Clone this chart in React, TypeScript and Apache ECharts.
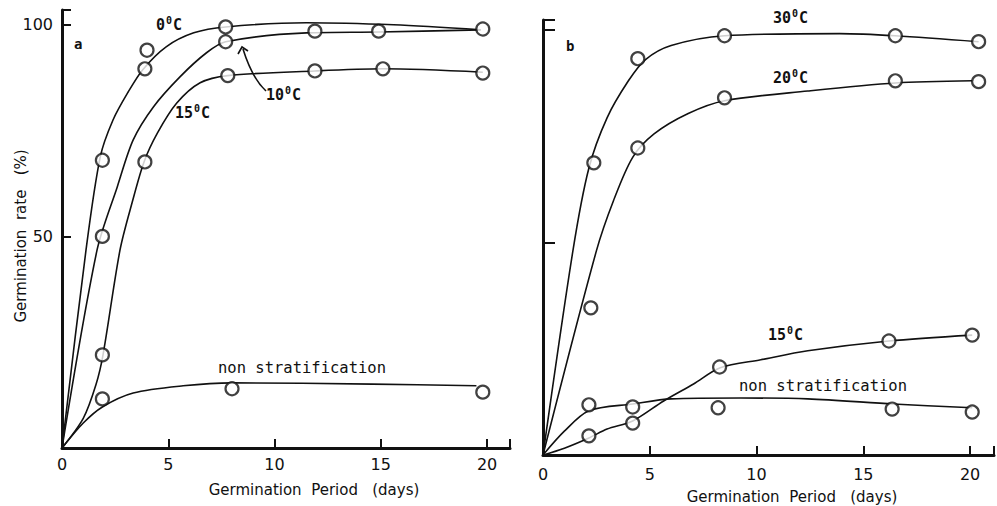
import React, { useEffect, useRef } from "react";
import * as echarts from "echarts";

// ---------- Panel a (left) ----------
// fitted curves [day, %]
const aCurve0C = [[0, 0], [1.13, 46.8], [1.8, 68.8], [2.4, 77.5], [3.1, 84], [3.8, 89.4], [4.9, 94.8], [6.2, 98.1], [7.7, 99.5], [11.5, 100.5], [15.6, 100], [19.7, 98.8]];
const aCurve10C = [[0, 0], [1.65, 46.8], [2.6, 61.7], [3.35, 72.8], [4.3, 80.6], [5.55, 87.7], [6.8, 93.4], [7.7, 96], [11.5, 98.1], [14.9, 98.3], [19.7, 98.8]];
const aCurve15C = [[0, 0], [1.0, 7], [1.6, 15], [1.93, 22], [2.73, 46.8], [3.3, 58], [3.86, 67.6], [4.5, 74.5], [5.4, 81.5], [6.5, 86.3], [7.8, 88], [11.9, 89.1], [15.1, 89.6], [19.8, 88.8]];
const aCurveNon = [[0, 0], [1, 5.9], [1.9, 9.7], [3.35, 13], [5.7, 14.7], [8, 15.4], [14.6, 15.1], [19.5, 14.7]];
// observed points
const aPts0C = [[1.9, 68], [4.0, 94], [7.7, 99.5]];
const aPts10C = [[1.9, 50], [3.9, 89.6], [7.7, 96], [11.9, 98.5], [14.9, 98.5], [19.8, 99]];
const aPts15C = [[1.9, 22], [3.9, 67.6], [7.8, 88], [11.9, 89.1], [15.1, 89.6], [19.8, 88.6]];
const aPtsNon = [[1.9, 11.6], [8.0, 14], [19.8, 13.2]];

// ---------- Panel b (right) ----------
const bCurve30C = [[0, 0], [1.4, 48], [2.15, 67.5], [3.0, 79.3], [4.0, 88], [4.8, 93], [6, 96.3], [8.5, 98.6], [13.9, 99.1], [16.5, 98.6], [20.4, 97.2]];
const bCurve20C = [[0, 0], [2.5, 48], [3.3, 59.8], [4.2, 70], [5.2, 75.5], [6.8, 80.3], [8.5, 83.3], [12.4, 85.6], [16.5, 87.5], [20.1, 88]];
const bCurve15C = [[0, 0], [1, 1.6], [2.15, 4], [3, 6.1], [4.2, 8], [5.65, 12.7], [7.05, 16.7], [8.3, 20.5], [10.2, 22.4], [12.4, 24.5], [16.2, 26.8], [20.1, 28.2]];
const bCurveNon = [[0, 0], [1, 5.6], [2.15, 10.4], [4.2, 12], [6, 13.2], [9.25, 13.4], [12.4, 13.2], [16.4, 12], [20.1, 11.1]];
const bPts30C = [[2.38, 68.7], [4.44, 93.2], [8.5, 98.6], [16.5, 98.6], [20.4, 97.2]];
const bPts20C = [[2.24, 34.6], [4.44, 72.2], [8.5, 84], [16.5, 88], [20.4, 87.8]];
const bPts15C = [[2.15, 4.5], [4.2, 7.5], [8.27, 20.7], [16.2, 26.8], [20.1, 28.2]];
const bPtsNon = [[2.15, 11.8], [4.2, 11.3], [8.2, 11.1], [16.35, 10.8], [20.1, 10.1]];

const xTickLabels = ["0", "5", "10", "15", "20"];
const yTickLabelsA = ["50", "100"];

const INK = "#111";
const TICK_FONT = "DejaVu Sans";
const MONO = "DejaVu Sans Mono";

function lineSeries(data: number[][], idx: number, name: string) {
  return {
    type: "line",
    name,
    xAxisIndex: idx,
    yAxisIndex: idx,
    data,
    smooth: 0.3,
    showSymbol: false,
    symbol: "none",
    lineStyle: { color: INK, width: 1.6 },
    z: 2,
  };
}
function pointSeries(data: number[][], idx: number, name: string) {
  return {
    type: "scatter",
    name,
    xAxisIndex: idx,
    yAxisIndex: idx,
    data,
    symbol: "circle",
    symbolSize: 13,
    itemStyle: { color: "#fff", borderColor: INK, borderWidth: 2.2 },
    z: 5,
  };
}

function xAxis(idx: number, max: number, margin: number) {
  return {
    type: "value",
    gridIndex: idx,
    min: 0,
    max,
    interval: 5,
    axisLine: { show: true, onZero: false, lineStyle: { color: INK, width: 3 } },
    axisTick: { show: true, inside: true, length: 9, lineStyle: { color: INK, width: 2 } },
    splitLine: { show: false },
    axisLabel: {
      margin,
      color: INK,
      fontFamily: TICK_FONT,
      fontSize: 16,
      formatter: (v: number) => {
        const s = String(Math.round(v));
        return Math.abs(v - Math.round(v)) < 1e-6 && xTickLabels.includes(s) ? s : "";
      },
    },
  };
}

function temp(num: string) {
  return `{n|${num}}{s|0}{n|C}`;
}
const tempRich = {
  n: { fontFamily: MONO, fontWeight: "bold", fontSize: 15, fill: INK, color: INK },
  s: { fontFamily: MONO, fontWeight: "bold", fontSize: 10, fill: INK, color: INK, padding: [0, 1, 9, 1] },
};

function tempLabel(x: number, y: number, num: string) {
  return {
    type: "text",
    x,
    y,
    style: { text: temp(num), rich: tempRich, fill: INK, align: "left", verticalAlign: "bottom" },
    z: 10,
  };
}

export default function App() {
  const ref = useRef<HTMLDivElement>(null);
  useEffect(() => {
    if (!ref.current) return;
    const chart = echarts.init(ref.current, null, { renderer: "svg" });
    const option = {
      animation: false,
      backgroundColor: "#fff",
      grid: [
        { left: 62, top: 10, width: 448, height: 438 },
        { left: 543, top: 20, width: 452, height: 435 },
      ],
      xAxis: [xAxis(0, 21.08, 8), xAxis(1, 21.12, 11)],
      yAxis: [
        {
          type: "value",
          gridIndex: 0,
          min: 0,
          max: 103.5,
          interval: 50,
          axisLine: { show: true, onZero: false, lineStyle: { color: INK, width: 3 } },
          axisTick: { show: true, inside: true, length: 9, lineStyle: { color: INK, width: 2 } },
          splitLine: { show: false },
          axisLabel: {
            margin: 9,
            color: INK,
            fontFamily: TICK_FONT,
            fontSize: 16,
            formatter: (v: number) => (yTickLabelsA.includes(String(v)) ? String(v) : ""),
          },
        },
        {
          type: "value",
          gridIndex: 1,
          min: 0,
          max: 102.3,
          interval: 50,
          axisLine: { show: true, onZero: false, lineStyle: { color: INK, width: 3 } },
          axisTick: { show: true, inside: true, length: 12, lineStyle: { color: INK, width: 2 } },
          splitLine: { show: false },
          axisLabel: { show: false },
        },
      ],
      series: [
        lineSeries(aCurve0C, 0, "0°C"),
        lineSeries(aCurve10C, 0, "10°C"),
        lineSeries(aCurve15C, 0, "15°C"),
        lineSeries(aCurveNon, 0, "non stratification"),
        pointSeries(aPts0C, 0, "0°C obs"),
        pointSeries(aPts10C, 0, "10°C obs"),
        pointSeries(aPts15C, 0, "15°C obs"),
        pointSeries(aPtsNon, 0, "non stratification obs"),
        lineSeries(bCurve30C, 1, "30°C"),
        lineSeries(bCurve20C, 1, "20°C"),
        lineSeries(bCurve15C, 1, "15°C"),
        lineSeries(bCurveNon, 1, "non stratification"),
        pointSeries(bPts30C, 1, "30°C obs"),
        pointSeries(bPts20C, 1, "20°C obs"),
        pointSeries(bPts15C, 1, "15°C obs"),
        pointSeries(bPtsNon, 1, "non stratification obs"),
      ],
      graphic: [
        // axis names
        {
          type: "text",
          x: 21,
          y: 236,
          rotation: Math.PI / 2,
          style: { text: "Germination  rate   (%)", fill: INK, font: `15px "${TICK_FONT}"`, align: "center", verticalAlign: "middle" },
        },
        {
          type: "text",
          x: 314,
          y: 490,
          style: { text: "Germination  Period   (days)", fill: INK, font: `15px "${TICK_FONT}"`, align: "center", verticalAlign: "middle" },
        },
        {
          type: "text",
          x: 792,
          y: 497,
          style: { text: "Germination  Period   (days)", fill: INK, font: `15px "${TICK_FONT}"`, align: "center", verticalAlign: "middle" },
        },
        // panel letters
        { type: "text", x: 74, y: 44, style: { text: "a", fill: INK, font: `bold 14px "${MONO}"`, verticalAlign: "middle" } },
        { type: "text", x: 566, y: 46, style: { text: "b", fill: INK, font: `bold 14px "${MONO}"`, verticalAlign: "middle" } },
        // curve labels panel a
        tempLabel(156, 34, "0"),
        tempLabel(175, 122, "15"),
        tempLabel(266, 104, "10"),
        {
          type: "text",
          x: 302,
          y: 368,
          style: { text: "non stratification", fill: INK, font: `15.5px "${MONO}"`, align: "center", verticalAlign: "middle" },
        },
        // arrow for 10°C
        {
          type: "bezierCurve",
          shape: { x1: 266, y1: 91, cpx1: 252, cpy1: 78, x2: 243, y2: 49 },
          style: { stroke: INK, lineWidth: 1.6, fill: "none" },
        },
        {
          type: "polyline",
          shape: { points: [[238, 54], [242, 47], [248, 51]] },
          style: { stroke: INK, lineWidth: 1.6, fill: "none" },
        },
        // curve labels panel b
        tempLabel(773, 27, "30"),
        tempLabel(773, 87, "20"),
        tempLabel(768, 344, "15"),
        {
          type: "text",
          x: 823,
          y: 386,
          style: { text: "non stratification", fill: INK, font: `15.5px "${MONO}"`, align: "center", verticalAlign: "middle" },
        },
      ],
    };
    chart.setOption(option as any);
    return () => chart.dispose();
  }, []);
  return <div ref={ref} style={{ position: "fixed", left: 0, top: 0, width: 997, height: 506, background: "#fff" }} />;
}
